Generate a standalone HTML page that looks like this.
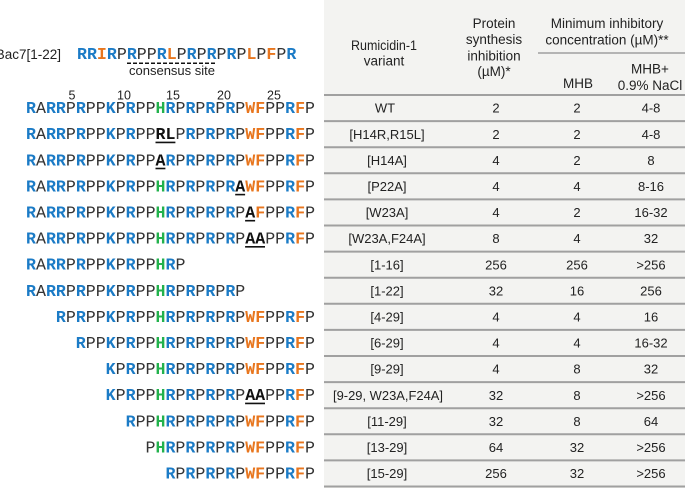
<!DOCTYPE html>
<html><head><meta charset="utf-8"><style>
html,body{margin:0;padding:0;background:#fff;}
svg{display:block;}
.s{font-family:"Liberation Mono",monospace;font-size:16.6px;fill:#333;}
.b{fill:#1b7bc6;font-weight:700;}
.o{fill:#e8761e;font-weight:700;}
.g{fill:#22b24c;font-weight:700;}
.m{fill:#111;font-weight:700;}
.h{font-family:"Liberation Sans",sans-serif;font-size:13.5px;fill:#222;text-anchor:middle;}
.t{font-family:"Liberation Sans",sans-serif;font-size:13px;fill:#222;text-anchor:middle;}
.n{font-family:"Liberation Sans",sans-serif;font-size:12.5px;fill:#222;text-anchor:middle;}
</style></head><body>
<svg width="685" height="488" viewBox="0 0 685 488" xmlns="http://www.w3.org/2000/svg">
<rect x="324" y="0" width="361" height="488" fill="#f3f3f1"/>
<g stroke="#a0a0a0" stroke-width="2">
<line x1="538" y1="53" x2="685" y2="53" stroke-width="1.5"/>
<line x1="324" y1="95" x2="685" y2="95"/>
<line x1="324" y1="121.1" x2="685" y2="121.1"/>
<line x1="324" y1="147.2" x2="685" y2="147.2"/>
<line x1="324" y1="173.3" x2="685" y2="173.3"/>
<line x1="324" y1="199.4" x2="685" y2="199.4"/>
<line x1="324" y1="225.5" x2="685" y2="225.5"/>
<line x1="324" y1="251.6" x2="685" y2="251.6"/>
<line x1="324" y1="277.7" x2="685" y2="277.7"/>
<line x1="324" y1="303.8" x2="685" y2="303.8"/>
<line x1="324" y1="329.9" x2="685" y2="329.9"/>
<line x1="324" y1="356" x2="685" y2="356"/>
<line x1="324" y1="382.1" x2="685" y2="382.1"/>
<line x1="324" y1="408.2" x2="685" y2="408.2"/>
<line x1="324" y1="434.3" x2="685" y2="434.3"/>
<line x1="324" y1="460.4" x2="685" y2="460.4"/>
<line x1="324" y1="486.5" x2="685" y2="486.5"/>
</g>

<!-- header -->
<text class="h" x="384" y="50" textLength="66" lengthAdjust="spacingAndGlyphs">Rumicidin-1</text>
<text class="h" x="384" y="65.5">variant</text>
<text class="h" x="494" y="28">Protein</text>
<text class="h" x="494" y="44">synthesis</text>
<text class="h" x="494" y="60.5">inhibition</text>
<text class="h" x="494" y="76">(µM)*</text>
<text class="h" x="607" y="28">Minimum inhibitory</text>
<text class="h" x="607" y="44.5">concentration (µM)**</text>
<text class="h" x="578" y="88">MHB</text>
<text class="h" x="650" y="73.5">MHB+</text>
<text class="h" x="650" y="90">0.9% NaCl</text>

<!-- Bac7 -->
<text x="61" y="59" style="font-family:'Liberation Sans',sans-serif;font-size:13.5px;fill:#222;text-anchor:end;">Bac7[1-22]</text>
<text class="s" x="77" y="59"><tspan class="b">RR</tspan><tspan class="o">I</tspan><tspan class="b">R</tspan>P<tspan class="b">R</tspan>PP<tspan class="b">R</tspan><tspan class="o">L</tspan>P<tspan class="b">R</tspan>P<tspan class="b">R</tspan>P<tspan class="b">R</tspan>P<tspan class="o">L</tspan>P<tspan class="o">F</tspan>P<tspan class="b">R</tspan></text>
<line x1="127" y1="63.3" x2="217" y2="63.3" stroke="#111" stroke-width="1.5" stroke-dasharray="4,2"/>
<text x="172" y="75" style="font-family:'Liberation Sans',sans-serif;font-size:13px;fill:#222;text-anchor:middle;">consensus site</text>

<!-- position numbers -->
<text class="n" x="72" y="99.5">5</text>
<text class="n" x="124" y="99.5">10</text>
<text class="n" x="173" y="99.5">15</text>
<text class="n" x="224" y="99.5">20</text>
<text class="n" x="274" y="99.5">25</text>

<!-- sequences -->
<text class="s" x="26" y="113.05"><tspan class="b">R</tspan>A<tspan class="b">RR</tspan>P<tspan class="b">R</tspan>PP<tspan class="b">K</tspan>P<tspan class="b">R</tspan>PP<tspan class="g">H</tspan><tspan class="b">R</tspan>P<tspan class="b">R</tspan>P<tspan class="b">R</tspan>P<tspan class="b">R</tspan>P<tspan class="o">WF</tspan>PP<tspan class="b">R</tspan><tspan class="o">F</tspan>P</text>
<text class="s" x="26" y="139.15"><tspan class="b">R</tspan>A<tspan class="b">RR</tspan>P<tspan class="b">R</tspan>PP<tspan class="b">K</tspan>P<tspan class="b">R</tspan>PP<tspan class="m">RL</tspan>P<tspan class="b">R</tspan>P<tspan class="b">R</tspan>P<tspan class="b">R</tspan>P<tspan class="o">WF</tspan>PP<tspan class="b">R</tspan><tspan class="o">F</tspan>P</text>
<text class="s" x="26" y="165.25"><tspan class="b">R</tspan>A<tspan class="b">RR</tspan>P<tspan class="b">R</tspan>PP<tspan class="b">K</tspan>P<tspan class="b">R</tspan>PP<tspan class="m">A</tspan><tspan class="b">R</tspan>P<tspan class="b">R</tspan>P<tspan class="b">R</tspan>P<tspan class="b">R</tspan>P<tspan class="o">WF</tspan>PP<tspan class="b">R</tspan><tspan class="o">F</tspan>P</text>
<text class="s" x="26" y="191.35"><tspan class="b">R</tspan>A<tspan class="b">RR</tspan>P<tspan class="b">R</tspan>PP<tspan class="b">K</tspan>P<tspan class="b">R</tspan>PP<tspan class="g">H</tspan><tspan class="b">R</tspan>P<tspan class="b">R</tspan>P<tspan class="b">R</tspan>P<tspan class="b">R</tspan><tspan class="m">A</tspan><tspan class="o">WF</tspan>PP<tspan class="b">R</tspan><tspan class="o">F</tspan>P</text>
<text class="s" x="26" y="217.45"><tspan class="b">R</tspan>A<tspan class="b">RR</tspan>P<tspan class="b">R</tspan>PP<tspan class="b">K</tspan>P<tspan class="b">R</tspan>PP<tspan class="g">H</tspan><tspan class="b">R</tspan>P<tspan class="b">R</tspan>P<tspan class="b">R</tspan>P<tspan class="b">R</tspan>P<tspan class="m">A</tspan><tspan class="o">F</tspan>PP<tspan class="b">R</tspan><tspan class="o">F</tspan>P</text>
<text class="s" x="26" y="243.55"><tspan class="b">R</tspan>A<tspan class="b">RR</tspan>P<tspan class="b">R</tspan>PP<tspan class="b">K</tspan>P<tspan class="b">R</tspan>PP<tspan class="g">H</tspan><tspan class="b">R</tspan>P<tspan class="b">R</tspan>P<tspan class="b">R</tspan>P<tspan class="b">R</tspan>P<tspan class="m">AA</tspan>PP<tspan class="b">R</tspan><tspan class="o">F</tspan>P</text>
<text class="s" x="26" y="269.65"><tspan class="b">R</tspan>A<tspan class="b">RR</tspan>P<tspan class="b">R</tspan>PP<tspan class="b">K</tspan>P<tspan class="b">R</tspan>PP<tspan class="g">H</tspan><tspan class="b">R</tspan>P</text>
<text class="s" x="26" y="295.75"><tspan class="b">R</tspan>A<tspan class="b">RR</tspan>P<tspan class="b">R</tspan>PP<tspan class="b">K</tspan>P<tspan class="b">R</tspan>PP<tspan class="g">H</tspan><tspan class="b">R</tspan>P<tspan class="b">R</tspan>P<tspan class="b">R</tspan>P<tspan class="b">R</tspan>P</text>
<text class="s" x="55.88" y="321.85"><tspan class="b">R</tspan>P<tspan class="b">R</tspan>PP<tspan class="b">K</tspan>P<tspan class="b">R</tspan>PP<tspan class="g">H</tspan><tspan class="b">R</tspan>P<tspan class="b">R</tspan>P<tspan class="b">R</tspan>P<tspan class="b">R</tspan>P<tspan class="o">WF</tspan>PP<tspan class="b">R</tspan><tspan class="o">F</tspan>P</text>
<text class="s" x="75.8" y="347.95"><tspan class="b">R</tspan>PP<tspan class="b">K</tspan>P<tspan class="b">R</tspan>PP<tspan class="g">H</tspan><tspan class="b">R</tspan>P<tspan class="b">R</tspan>P<tspan class="b">R</tspan>P<tspan class="b">R</tspan>P<tspan class="o">WF</tspan>PP<tspan class="b">R</tspan><tspan class="o">F</tspan>P</text>
<text class="s" x="105.68" y="374.05"><tspan class="b">K</tspan>P<tspan class="b">R</tspan>PP<tspan class="g">H</tspan><tspan class="b">R</tspan>P<tspan class="b">R</tspan>P<tspan class="b">R</tspan>P<tspan class="b">R</tspan>P<tspan class="o">WF</tspan>PP<tspan class="b">R</tspan><tspan class="o">F</tspan>P</text>
<text class="s" x="105.68" y="400.15"><tspan class="b">K</tspan>P<tspan class="b">R</tspan>PP<tspan class="g">H</tspan><tspan class="b">R</tspan>P<tspan class="b">R</tspan>P<tspan class="b">R</tspan>P<tspan class="b">R</tspan>P<tspan class="m">AA</tspan>PP<tspan class="b">R</tspan><tspan class="o">F</tspan>P</text>
<text class="s" x="125.6" y="426.25"><tspan class="b">R</tspan>PP<tspan class="g">H</tspan><tspan class="b">R</tspan>P<tspan class="b">R</tspan>P<tspan class="b">R</tspan>P<tspan class="b">R</tspan>P<tspan class="o">WF</tspan>PP<tspan class="b">R</tspan><tspan class="o">F</tspan>P</text>
<text class="s" x="145.52" y="452.35">P<tspan class="g">H</tspan><tspan class="b">R</tspan>P<tspan class="b">R</tspan>P<tspan class="b">R</tspan>P<tspan class="b">R</tspan>P<tspan class="o">WF</tspan>PP<tspan class="b">R</tspan><tspan class="o">F</tspan>P</text>
<text class="s" x="165.44" y="478.45"><tspan class="b">R</tspan>P<tspan class="b">R</tspan>P<tspan class="b">R</tspan>P<tspan class="b">R</tspan>P<tspan class="o">WF</tspan>PP<tspan class="b">R</tspan><tspan class="o">F</tspan>P</text>

<!-- underlines -->
<g stroke="#111" stroke-width="1.6">
<line x1="155.5" y1="142.4" x2="175.4" y2="142.4"/>
<line x1="155.5" y1="168.5" x2="165.4" y2="168.5"/>
<line x1="235.2" y1="194.6" x2="245.1" y2="194.6"/>
<line x1="245.1" y1="220.7" x2="255.1" y2="220.7"/>
<line x1="245.1" y1="246.8" x2="265.0" y2="246.8"/>
<line x1="245.1" y1="403.4" x2="265.0" y2="403.4"/>
</g>

<!-- table body -->
<text class="t" x="385" y="112.7">WT</text><text class="t" x="496" y="112.7">2</text><text class="t" x="577" y="112.7">2</text><text class="t" x="651" y="112.7">4-8</text>
<text class="t" x="387" y="138.8">[H14R,R15L]</text><text class="t" x="496" y="138.8">2</text><text class="t" x="577" y="138.8">2</text><text class="t" x="651" y="138.8">4-8</text>
<text class="t" x="387" y="164.9">[H14A]</text><text class="t" x="496" y="164.9">4</text><text class="t" x="577" y="164.9">2</text><text class="t" x="651" y="164.9">8</text>
<text class="t" x="387" y="191">[P22A]</text><text class="t" x="496" y="191">4</text><text class="t" x="577" y="191">4</text><text class="t" x="651" y="191">8-16</text>
<text class="t" x="387" y="217.1">[W23A]</text><text class="t" x="496" y="217.1">4</text><text class="t" x="577" y="217.1">2</text><text class="t" x="651" y="217.1">16-32</text>
<text class="t" x="387" y="243.2">[W23A,F24A]</text><text class="t" x="496" y="243.2">8</text><text class="t" x="577" y="243.2">4</text><text class="t" x="651" y="243.2">32</text>
<text class="t" x="387" y="269.3">[1-16]</text><text class="t" x="496" y="269.3">256</text><text class="t" x="577" y="269.3">256</text><text class="t" x="651" y="269.3">&gt;256</text>
<text class="t" x="387" y="295.4">[1-22]</text><text class="t" x="496" y="295.4">32</text><text class="t" x="577" y="295.4">16</text><text class="t" x="651" y="295.4">256</text>
<text class="t" x="387" y="321.5">[4-29]</text><text class="t" x="496" y="321.5">4</text><text class="t" x="577" y="321.5">4</text><text class="t" x="651" y="321.5">16</text>
<text class="t" x="387" y="347.6">[6-29]</text><text class="t" x="496" y="347.6">4</text><text class="t" x="577" y="347.6">4</text><text class="t" x="651" y="347.6">16-32</text>
<text class="t" x="387" y="373.7">[9-29]</text><text class="t" x="496" y="373.7">4</text><text class="t" x="577" y="373.7">8</text><text class="t" x="651" y="373.7">32</text>
<text class="t" x="388" y="399.8" textLength="110" lengthAdjust="spacingAndGlyphs">[9-29, W23A,F24A]</text><text class="t" x="496" y="399.8">32</text><text class="t" x="577" y="399.8">8</text><text class="t" x="651" y="399.8">&gt;256</text>
<text class="t" x="387" y="425.9">[11-29]</text><text class="t" x="496" y="425.9">32</text><text class="t" x="577" y="425.9">8</text><text class="t" x="651" y="425.9">64</text>
<text class="t" x="387" y="452">[13-29]</text><text class="t" x="496" y="452">64</text><text class="t" x="577" y="452">32</text><text class="t" x="651" y="452">&gt;256</text>
<text class="t" x="387" y="478.1">[15-29]</text><text class="t" x="496" y="478.1">256</text><text class="t" x="577" y="478.1">32</text><text class="t" x="651" y="478.1">&gt;256</text>
</svg>
</body></html>
